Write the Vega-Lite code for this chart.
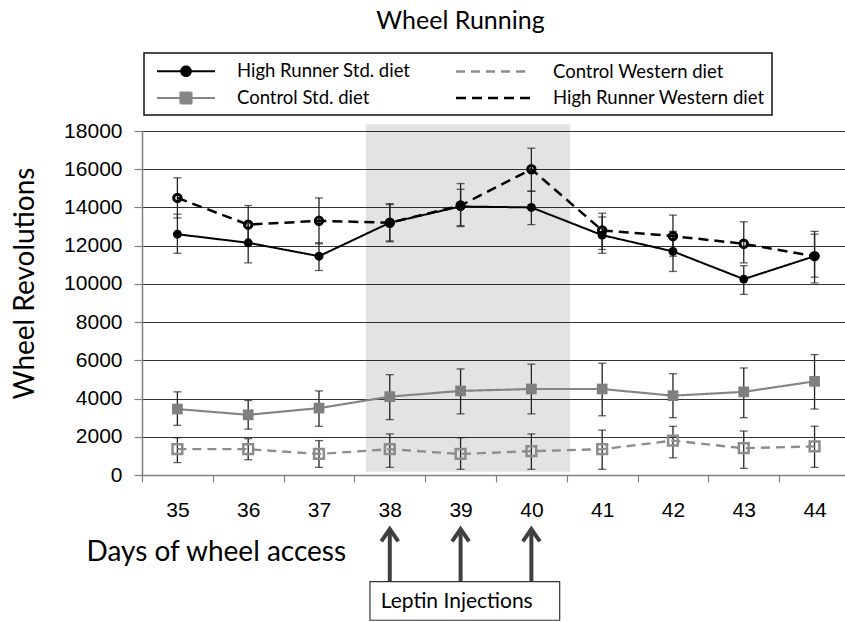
{
  "$schema": "https://vega.github.io/schema/vega-lite/v6.json",
  "width": 703,
  "height": 344,
  "autosize": "none",
  "padding": {"left": 142, "top": 131, "right": 0, "bottom": 147},
  "background": "white",
  "config": {"view": {"stroke": null}},
  "title": {"text": "Wheel Running", "font": "Lato", "fontSize": 25, "fontWeight": "normal", "color": "#000", "anchor": "middle", "dx": -33, "offset": 18},
  "datasets": {
    "series": [
      {"day": 35, "series": "High Runner Std. diet", "mean": 12600, "lo": 11600, "hi": 13650},
      {"day": 36, "series": "High Runner Std. diet", "mean": 12150, "lo": 11100, "hi": 13150},
      {"day": 37, "series": "High Runner Std. diet", "mean": 11450, "lo": 10700, "hi": 12150},
      {"day": 38, "series": "High Runner Std. diet", "mean": 13200, "lo": 12250, "hi": 14150},
      {"day": 39, "series": "High Runner Std. diet", "mean": 14050, "lo": 13050, "hi": 14950},
      {"day": 40, "series": "High Runner Std. diet", "mean": 14000, "lo": 13100, "hi": 14850},
      {"day": 41, "series": "High Runner Std. diet", "mean": 12550, "lo": 11600, "hi": 13500},
      {"day": 42, "series": "High Runner Std. diet", "mean": 11700, "lo": 10650, "hi": 12750},
      {"day": 43, "series": "High Runner Std. diet", "mean": 10250, "lo": 9450, "hi": 10950},
      {"day": 44, "series": "High Runner Std. diet", "mean": 11450, "lo": 10050, "hi": 12750},
      {"day": 35, "series": "High Runner Western diet", "mean": 14500, "lo": 13450, "hi": 15550},
      {"day": 36, "series": "High Runner Western diet", "mean": 13100, "lo": 12100, "hi": 14100},
      {"day": 37, "series": "High Runner Western diet", "mean": 13300, "lo": 12100, "hi": 14500},
      {"day": 38, "series": "High Runner Western diet", "mean": 13200, "lo": 12200, "hi": 14200},
      {"day": 39, "series": "High Runner Western diet", "mean": 14100, "lo": 13000, "hi": 15250},
      {"day": 40, "series": "High Runner Western diet", "mean": 16000, "lo": 14850, "hi": 17100},
      {"day": 41, "series": "High Runner Western diet", "mean": 12800, "lo": 11800, "hi": 13700},
      {"day": 42, "series": "High Runner Western diet", "mean": 12500, "lo": 11450, "hi": 13600},
      {"day": 43, "series": "High Runner Western diet", "mean": 12100, "lo": 11100, "hi": 13250},
      {"day": 44, "series": "High Runner Western diet", "mean": 11450, "lo": 10350, "hi": 12600},
      {"day": 35, "series": "Control Std. diet", "mean": 3450, "lo": 2600, "hi": 4350},
      {"day": 36, "series": "Control Std. diet", "mean": 3150, "lo": 2400, "hi": 3900},
      {"day": 37, "series": "Control Std. diet", "mean": 3500, "lo": 2550, "hi": 4400},
      {"day": 38, "series": "Control Std. diet", "mean": 4100, "lo": 2900, "hi": 5250},
      {"day": 39, "series": "Control Std. diet", "mean": 4400, "lo": 3200, "hi": 5550},
      {"day": 40, "series": "Control Std. diet", "mean": 4500, "lo": 3200, "hi": 5800},
      {"day": 41, "series": "Control Std. diet", "mean": 4500, "lo": 3100, "hi": 5850},
      {"day": 42, "series": "Control Std. diet", "mean": 4150, "lo": 3000, "hi": 5300},
      {"day": 43, "series": "Control Std. diet", "mean": 4350, "lo": 3000, "hi": 5600},
      {"day": 44, "series": "Control Std. diet", "mean": 4900, "lo": 3450, "hi": 6300},
      {"day": 35, "series": "Control Western diet", "mean": 1350, "lo": 650, "hi": 1950},
      {"day": 36, "series": "Control Western diet", "mean": 1350, "lo": 800, "hi": 1900},
      {"day": 37, "series": "Control Western diet", "mean": 1100, "lo": 400, "hi": 1800},
      {"day": 38, "series": "Control Western diet", "mean": 1350, "lo": 400, "hi": 2150},
      {"day": 39, "series": "Control Western diet", "mean": 1100, "lo": 300, "hi": 1950},
      {"day": 40, "series": "Control Western diet", "mean": 1250, "lo": 300, "hi": 2150},
      {"day": 41, "series": "Control Western diet", "mean": 1350, "lo": 300, "hi": 2350},
      {"day": 42, "series": "Control Western diet", "mean": 1800, "lo": 900, "hi": 2550},
      {"day": 43, "series": "Control Western diet", "mean": 1400, "lo": 350, "hi": 2300},
      {"day": 44, "series": "Control Western diet", "mean": 1500, "lo": 400, "hi": 2550}
    ],
    "injections": [{"day": 38}, {"day": 39}, {"day": 40}]
  },
  "layer": [
    {
      "data": {"values": [{}]},
      "mark": {"type": "rect", "fill": "#000", "opacity": 0.11},
      "encoding": {
        "x": {"datum": 37.66, "type": "quantitative"},
        "x2": {"datum": 40.55},
        "y": {"datum": 170, "type": "quantitative"},
        "y2": {"datum": 18350}
      }
    },
    {
      "data": {"name": "series"},
      "mark": {"type": "rule", "color": "#222", "strokeWidth": 1.3},
      "encoding": {
        "x": {"field": "day", "type": "quantitative", "title": "Days of wheel access",
          "scale": {"domain": [34.5, 44.43], "nice": false, "zero": false},
          "axis": {"values": [34.5, 35.5, 36.5, 37.5, 38.5, 39.5, 40.5, 41.5, 42.5, 43.5], "tickCount": 12,
            "labelExpr": "datum.value + 0.5", "labelOffset": 35.4, "labelFlush": false, "labelOverlap": false, "labelBound": false,
            "tickSize": 7, "tickColor": "#808080", "tickWidth": 1.2, "domainColor": "#808080", "domainWidth": 1.5,
            "grid": false, "labelFont": "Liberation Sans", "labelFontSize": 21, "labelColor": "#000",
            "labelPadding": 28, "labelBaseline": "middle",
            "titleFont": "Lato", "titleFontSize": 28, "titleFontWeight": "normal", "titleColor": "#000",
            "titleAlign": "left", "titleAnchor": "start", "titleX": -56, "titleY": 77, "titleBaseline": "middle"}},
        "y": {"field": "lo", "type": "quantitative", "title": "Wheel Revolutions",
          "scale": {"domain": [0, 18000], "nice": false, "zero": false},
          "axis": {"values": [0, 2000, 4000, 6000, 8000, 10000, 12000, 14000, 16000, 18000], "tickCount": 12, "format": "d",
            "labelOverlap": false, "labelFlush": false, "labelBound": false,
            "grid": true, "gridColor": "#333", "gridWidth": 1, "tickSize": 8, "tickColor": "#808080", "tickWidth": 1.2,
            "domainColor": "#808080", "domainWidth": 1.5, "labelFont": "Liberation Sans", "labelFontSize": 21,
            "labelColor": "#000", "labelPadding": 12, "labelBaseline": "middle",
            "titleFont": "Lato", "titleFontSize": 28, "titleFontWeight": "normal", "titleColor": "#000",
            "titleX": -117, "titleY": 152, "titleBaseline": "middle", "titleAlign": "center"}},
        "y2": {"field": "hi"}
      }
    },
    {
      "data": {"name": "series"},
      "mark": {"type": "tick", "orient": "horizontal", "color": "#222", "size": 8, "thickness": 1.3},
      "encoding": {
        "x": {"field": "day", "type": "quantitative", "title": "Days of wheel access"},
        "y": {"field": "lo", "type": "quantitative", "title": "Wheel Revolutions"}
      }
    },
    {
      "data": {"name": "series"},
      "mark": {"type": "tick", "orient": "horizontal", "color": "#222", "size": 8, "thickness": 1.3},
      "encoding": {
        "x": {"field": "day", "type": "quantitative", "title": "Days of wheel access"},
        "y": {"field": "hi", "type": "quantitative", "title": "Wheel Revolutions"}
      }
    },
    {
      "data": {"name": "series"},
      "mark": {"type": "line", "strokeCap": "butt"},
      "encoding": {
        "x": {"field": "day", "type": "quantitative", "title": "Days of wheel access"},
        "y": {"field": "mean", "type": "quantitative", "title": "Wheel Revolutions"},
        "color": {"field": "series", "type": "nominal",
          "scale": {"domain": ["High Runner Std. diet", "Control Std. diet", "Control Western diet", "High Runner Western diet"],
            "range": ["#000000", "#858585", "#8c8c8c", "#000000"]},
          "legend": {"title": null, "orient": "none", "legendX": 2, "legendY": -78, "columns": 2,
            "strokeColor": "#111", "padding": 7, "columnPadding": 39, "rowPadding": 5.5,
            "labelFont": "Lato", "labelFontSize": 18.5, "labelColor": "#000", "labelOffset": 63, "labelLimit": 400,
            "symbolSize": 400, "symbolStrokeWidth": 3, "symbolType": "stroke",
            "encode": {
              "legend": {"update": {"strokeWidth": {"value": 1.5}}},
              "labels": {"update": {"dx": {"signal": "datum.value === 'Control Western diet' || datum.value === 'High Runner Western diet' ? 17 : 0"}}},
              "symbols": {"update": {
              "shape": {"signal": "datum.value === 'High Runner Std. diet' ? 'M-0.55,0H5.25M1.87,0A0.48,0.48,0,1,0,2.83,0A0.48,0.48,0,1,0,1.87,0Z' : datum.value === 'Control Std. diet' ? 'M-0.55,0H5.25M1.8,-0.55H2.9V0.55H1.8Z' : 'M-0.55,0H6.95'"},
              "fill": {"signal": "datum.value === 'High Runner Std. diet' ? '#000' : datum.value === 'Control Std. diet' ? '#858585' : 'transparent'"}
            }}}}},
        "strokeDash": {"field": "series", "type": "nominal",
          "scale": {"domain": ["High Runner Std. diet", "Control Std. diet", "Control Western diet", "High Runner Western diet"],
            "range": [[1, 0], [1, 0], [9, 6], [10, 6]]}},
        "strokeWidth": {"field": "series", "type": "nominal", "legend": null,
          "scale": {"domain": ["High Runner Std. diet", "Control Std. diet", "Control Western diet", "High Runner Western diet"],
            "range": [2, 2.5, 3, 3.5]}}
      }
    },
    {
      "data": {"name": "series"},
      "transform": [{"filter": "datum.series === 'High Runner Std. diet'"}],
      "mark": {"type": "point", "shape": "circle", "filled": true, "fill": "#000", "size": 80, "opacity": 1},
      "encoding": {
        "x": {"field": "day", "type": "quantitative", "title": "Days of wheel access"},
        "y": {"field": "mean", "type": "quantitative", "title": "Wheel Revolutions"}
      }
    },
    {
      "data": {"name": "series"},
      "transform": [{"filter": "datum.series === 'High Runner Western diet'"}],
      "mark": {"type": "point", "shape": "circle", "filled": false, "stroke": "#000", "strokeWidth": 3, "size": 55, "opacity": 1},
      "encoding": {
        "x": {"field": "day", "type": "quantitative", "title": "Days of wheel access"},
        "y": {"field": "mean", "type": "quantitative", "title": "Wheel Revolutions"}
      }
    },
    {
      "data": {"name": "series"},
      "transform": [{"filter": "datum.series === 'Control Std. diet'"}],
      "mark": {"type": "point", "shape": "square", "filled": true, "fill": "#7f7f7f", "size": 115, "opacity": 1},
      "encoding": {
        "x": {"field": "day", "type": "quantitative", "title": "Days of wheel access"},
        "y": {"field": "mean", "type": "quantitative", "title": "Wheel Revolutions"}
      }
    },
    {
      "data": {"name": "series"},
      "transform": [{"filter": "datum.series === 'Control Western diet'"}],
      "mark": {"type": "point", "shape": "square", "filled": false, "stroke": "#8c8c8c", "strokeWidth": 2.5, "size": 95, "opacity": 1},
      "encoding": {
        "x": {"field": "day", "type": "quantitative", "title": "Days of wheel access"},
        "y": {"field": "mean", "type": "quantitative", "title": "Wheel Revolutions"}
      }
    },
    {
      "data": {"name": "injections"},
      "mark": {"type": "rule", "color": "#404040", "strokeWidth": 4},
      "encoding": {
        "x": {"field": "day", "type": "quantitative", "title": "Days of wheel access"},
        "y": {"datum": -2900, "type": "quantitative"},
        "y2": {"datum": -5600}
      }
    },
    {
      "data": {"name": "injections"},
      "mark": {"type": "point", "shape": "M-1,1.45L0,0L1,1.45", "filled": false, "stroke": "#404040", "strokeWidth": 4, "size": 289, "opacity": 1, "strokeJoin": "miter"},
      "encoding": {
        "x": {"field": "day", "type": "quantitative", "title": "Days of wheel access"},
        "y": {"datum": -2830, "type": "quantitative"}
      }
    },
    {
      "data": {"values": [{}]},
      "mark": {"type": "rect", "fill": "white", "stroke": "#333", "strokeWidth": 1.2},
      "encoding": {
        "x": {"datum": 37.72, "type": "quantitative"},
        "x2": {"datum": 40.4},
        "y": {"datum": -5583, "type": "quantitative"},
        "y2": {"datum": -7600}
      }
    },
    {
      "data": {"values": [{}]},
      "mark": {"type": "text", "font": "Lato", "fontSize": 21, "color": "#000", "align": "center", "baseline": "middle"},
      "encoding": {
        "x": {"datum": 38.945, "type": "quantitative"},
        "y": {"datum": -6645, "type": "quantitative"},
        "text": {"value": "Leptin Injections"}
      }
    }
  ]
}
